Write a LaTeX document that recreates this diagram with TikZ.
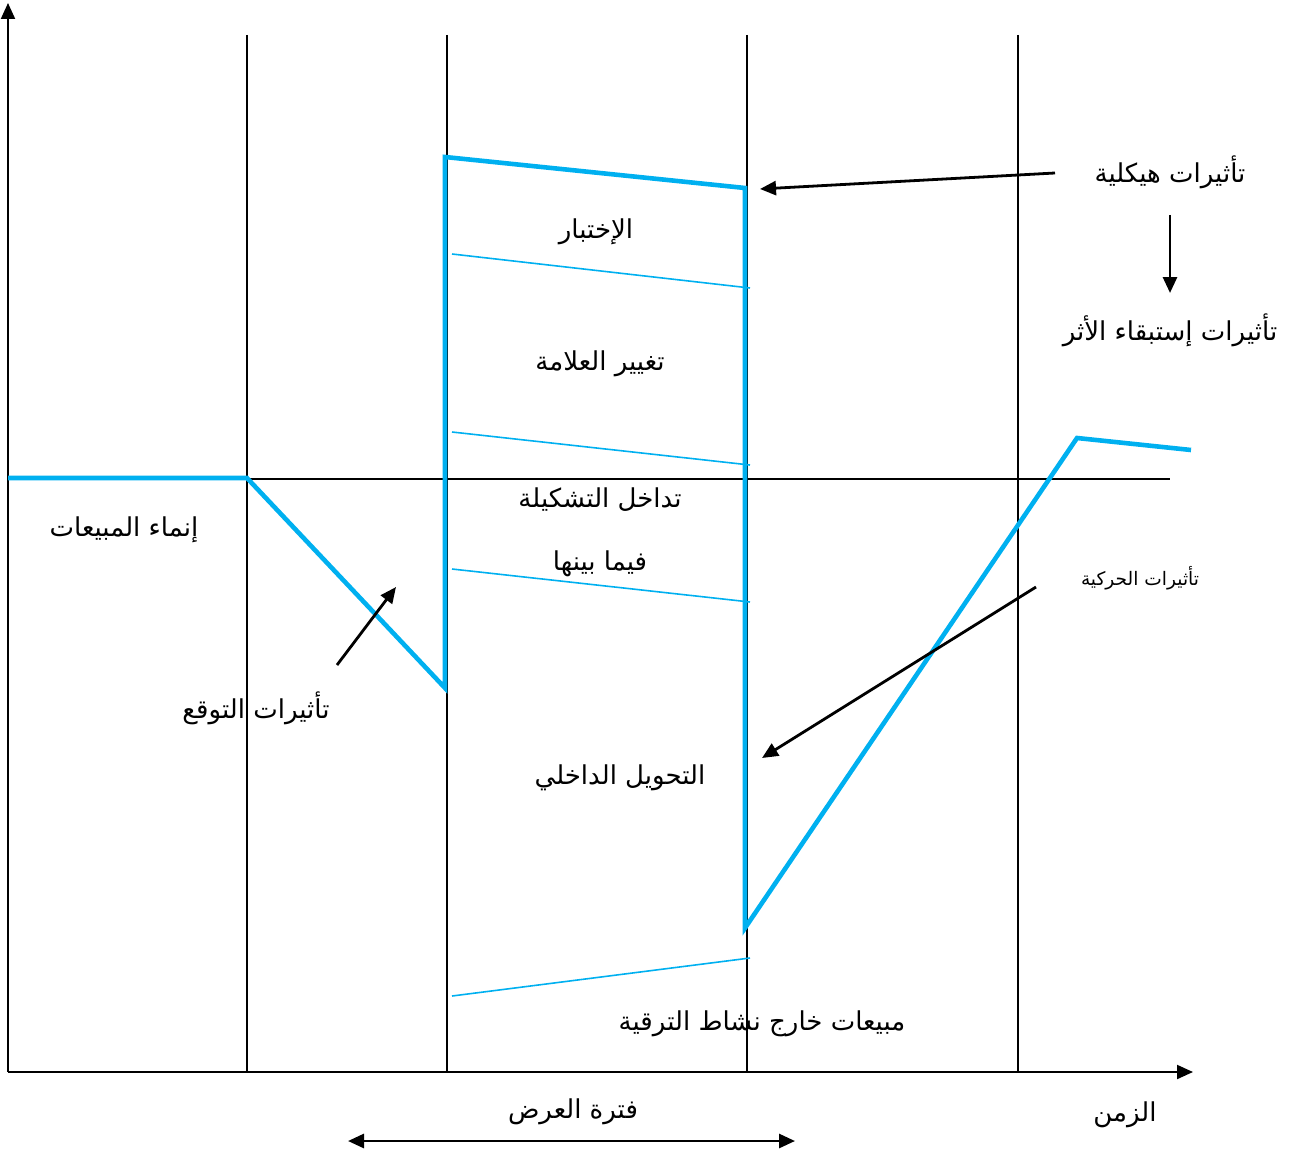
\documentclass[tikz,border=0pt]{standalone}
\usepackage{fontspec}
\usetikzlibrary{arrows.meta}
\usepackage{xcolor}
\TeXXeTstate=1
\newfontfamily\arabicfont[Script=Arabic]{DejaVu Sans}
\definecolor{SkyBlue}{RGB}{0,176,240}
\newcommand{\ar}[1]{{\arabicfont\beginR #1\endR}}

\begin{document}
\begin{tikzpicture}[x=0.5pt,y=-0.5pt,font=\fontsize{13}{15}\selectfont,>={Triangle[length=8pt,width=7pt]},
  lbl/.style={inner sep=1pt},
  small/.style={inner sep=1pt,font=\fontsize{9.3}{11}\selectfont},
  grid/.style={draw=black,line width=1pt},
  curve/.style={draw=SkyBlue,line width=2.3pt,line join=miter},
  band/.style={draw=SkyBlue,line width=0.8pt},
  pointer/.style={->,draw=black,line width=1.4pt}]
\useasboundingbox (0,0) rectangle (1294,1155);

% ===== axes and period lines =====
\coordinate (O) at (8,1072);
\coordinate (Ytop) at (8,3);
\coordinate (Xend) at (1193,1072);
\draw[grid,->] (O)--(Ytop);
\draw[grid,->] (O)--(Xend);
\foreach \x/\n in {247/a,447/b,747/c,1018/d}{
  \coordinate (v\n top) at (\x,35);
  \coordinate (v\n bot) at (\x,1072);
  \draw[grid] (v\n top)--(v\n bot);}
\coordinate (B0) at (8,479);
\coordinate (B1) at (1170,479);
\draw[draw=black,line width=0.7pt] (B0)--(B1);

% ===== sales curve =====
\coordinate (P0) at (8,478);
\coordinate (P1) at (247,478);
\coordinate (P2) at (445,688);
\coordinate (P3) at (445,157);
\coordinate (P4) at (745,188);
\coordinate (P5) at (745,928);
\coordinate (P6) at (1077,438);
\coordinate (P7) at (1191,450);
\draw[curve] (P0)--(P1)--(P2)--(P3)--(P4)--(P5)--(P6)--(P7);

% ===== split lines in the promotion period =====
\foreach \n/\ya/\yb in {1/254/288,2/432/465,3/569/602,4/996/958}{
  \coordinate (s\n l) at (452,\ya);
  \coordinate (s\n r) at (750,\yb);
  \draw[band] (s\n l)--(s\n r);}

% ===== labels =====
\node[lbl] (test) at (596,232) {\ar{الإختبار}};
\node[lbl] (brand) at (600,364) {\ar{تغيير العلامة}};
\node[lbl] (range1) at (600,500) {\ar{تداخل التشكيلة}};
\node[lbl] (range2) at (600,564) {\ar{فيما بينها}};
\node[lbl] (inner) at (620,778) {\ar{التحويل الداخلي}};
\node[lbl] (outside) at (762,1024) {\ar{مبيعات خارج نشاط الترقية}};
\node[lbl] (struct) at (1170,172) {\ar{تأثيرات هيكلية}};
\node[lbl] (persist) at (1170,330) {\ar{تأثيرات إستبقاء الأثر}};
\node[small] (motion) at (1140,578) {\ar{تأثيرات الحركية}};
\node[lbl] (growth) at (124,530) {\ar{إنماء المبيعات}};
\node[lbl] (expect) at (256,708) {\ar{تأثيرات التوقع}};
\node[lbl] (period) at (573,1112) {\ar{فترة العرض}};
\node[lbl] (time) at (1125,1115) {\ar{الزمن}};

% ===== pointers =====
\coordinate (t1) at (1055,173);  \coordinate (h1) at (760,189);
\coordinate (t2) at (1170,215);  \coordinate (h2) at (1170,293);
\coordinate (t3) at (337,665);   \coordinate (h3) at (396,587);
\coordinate (t4) at (1036,587);  \coordinate (h4) at (762,758);
\draw[pointer] (t1)--(h1);
\draw[pointer] (t2)--(h2);
\draw[pointer] (t3)--(h3);
\draw[pointer] (t4)--(h4);
\coordinate (pl) at (348,1141); \coordinate (pr) at (795,1141);
\draw[pointer,<->] (pl)--(pr);
\end{tikzpicture}
\end{document}
